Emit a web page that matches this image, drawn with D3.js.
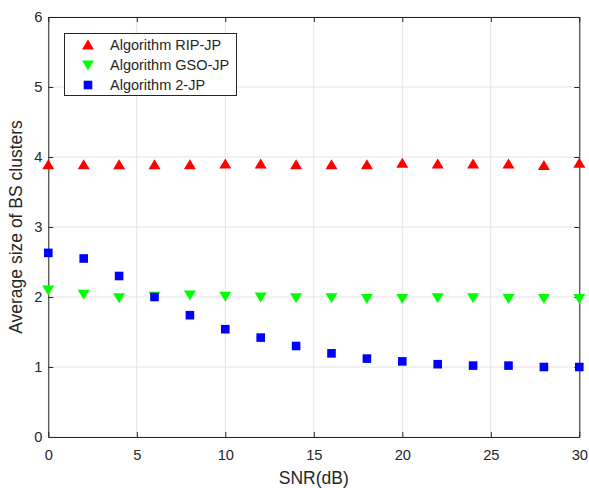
<!DOCTYPE html>
<html>
<head>
<meta charset="utf-8">
<script src="https://cdn.jsdelivr.net/npm/d3@7"></script>
<style>
  html, body { margin: 0; padding: 0; background: #fff; }
  svg { display: block; font-family: Arial, "Liberation Sans", Helvetica, sans-serif; }
</style>
</head>
<body>
<svg id="chart" width="589" height="488"></svg>
<script>
// SNR sample points (dB)
const snr = [0, 2, 4, 6, 8, 10, 12, 14, 16, 18, 20, 22, 24, 26, 28, 30];

// Average BS cluster size per algorithm
const ripJP = [3.89, 3.89, 3.89, 3.89, 3.89, 3.90, 3.90, 3.89, 3.89, 3.89, 3.91, 3.90, 3.90, 3.90, 3.88, 3.91];
const gsoJP = [2.10, 2.04, 1.99, 2.01, 2.03, 2.01, 2.00, 1.99, 1.99, 1.98, 1.98, 1.99, 1.99, 1.98, 1.98, 1.98];
const twoJP = [2.63, 2.55, 2.30, 2.00, 1.74, 1.54, 1.42, 1.30, 1.195, 1.12, 1.08, 1.04, 1.02, 1.02, 1.00, 1.00];

const seriesNames = ["Algorithm RIP-JP", "Algorithm GSO-JP", "Algorithm 2-JP"];
const xTicks = [0, 5, 10, 15, 20, 25, 30];
const yTicks = [0, 1, 2, 3, 4, 5, 6];

const svg = d3.select("#chart");
const plotLeft = 48.3, plotRight = 579.3, plotTop = 17, plotBottom = 437;

const x = d3.scaleLinear().domain([0, 30]).range([plotLeft, plotRight]);
const y = d3.scaleLinear().domain([0, 6]).range([plotBottom, plotTop]);

const axisColor = "#262626";
const gridColor = "#e3e3e3";
const fmt = d3.format("d");

// grid
const grid = svg.append("g");
grid.selectAll(".gx").data(xTicks).join("line")
  .attr("x1", d => x(d)).attr("x2", d => x(d))
  .attr("y1", plotTop).attr("y2", plotBottom)
  .attr("stroke", gridColor).attr("stroke-width", 1);
grid.selectAll(".gy").data(yTicks).join("line")
  .attr("y1", d => y(d)).attr("y2", d => y(d))
  .attr("x1", plotLeft).attr("x2", plotRight)
  .attr("stroke", gridColor).attr("stroke-width", 1);

// axes (ticks inward on all four sides)
function styleAxis(g) {
  g.select(".domain").attr("stroke", axisColor).attr("stroke-width", 1);
  g.selectAll(".tick line").attr("stroke", axisColor);
  g.selectAll(".tick text").attr("fill", axisColor).attr("font-size", 14.7)
    .attr("font-family", "Arial, 'Liberation Sans', sans-serif");
}
svg.append("g").attr("transform", `translate(0,${plotBottom})`)
  .call(d3.axisBottom(x).tickValues(xTicks).tickFormat(fmt).tickSizeInner(-5).tickSizeOuter(0).tickPadding(13))
  .call(styleAxis);
svg.append("g").attr("transform", `translate(0,${plotTop})`)
  .call(d3.axisTop(x).tickValues(xTicks).tickSizeInner(-5).tickSizeOuter(0).tickFormat(""))
  .call(styleAxis);
svg.append("g").attr("transform", `translate(${plotLeft},0)`)
  .call(d3.axisLeft(y).tickValues(yTicks).tickFormat(fmt).tickSizeInner(-5).tickSizeOuter(0).tickPadding(6))
  .call(styleAxis);
svg.append("g").attr("transform", `translate(${plotRight},0)`)
  .call(d3.axisRight(y).tickValues(yTicks).tickSizeInner(-5).tickSizeOuter(0).tickFormat(""))
  .call(styleAxis);

// axis titles
svg.append("text")
  .attr("x", (plotLeft + plotRight) / 2).attr("y", 484)
  .attr("text-anchor", "middle").attr("font-size", 17.5).attr("fill", axisColor)
  .text("SNR(dB)");
svg.append("text")
  .attr("transform", `translate(22,${(plotTop + plotBottom) / 2}) rotate(-90)`)
  .attr("text-anchor", "middle").attr("font-size", 17.5).attr("fill", axisColor)
  .text("Average size of BS clusters");

// marker shapes
const triUp = "M0,-5.5L6,4.5L-6,4.5Z";
const triDown = "M0,5.5L6,-4.5L-6,-4.5Z";
const square = "M-4.3,-4.3H4.3V4.3H-4.3Z";

const series = [
  { name: seriesNames[0], values: ripJP, color: "#ff0000", shape: triUp },
  { name: seriesNames[1], values: gsoJP, color: "#00ff00", shape: triDown },
  { name: seriesNames[2], values: twoJP, color: "#0000ff", shape: square }
];

const plot = svg.append("g");
series.forEach(s => {
  plot.append("g").selectAll("path")
    .data(snr.map((v, i) => [v, s.values[i]]))
    .join("path")
    .attr("d", s.shape)
    .attr("transform", d => `translate(${x(d[0])},${y(d[1])})`)
    .attr("fill", s.color);
});

// legend
const lg = svg.append("g");
lg.append("rect")
  .attr("x", 64.5).attr("y", 33.5).attr("width", 172).attr("height", 62)
  .attr("fill", "#fff").attr("stroke", axisColor).attr("stroke-width", 1);
series.forEach((s, i) => {
  const cy = 45 + i * 20;
  lg.append("path").attr("d", s.shape)
    .attr("transform", `translate(88,${cy})`).attr("fill", s.color);
  lg.append("text")
    .attr("x", 110).attr("y", cy).attr("dy", "0.35em")
    .attr("font-size", 14.5).attr("fill", axisColor)
    .text(s.name);
});
</script>
</body>
</html>
